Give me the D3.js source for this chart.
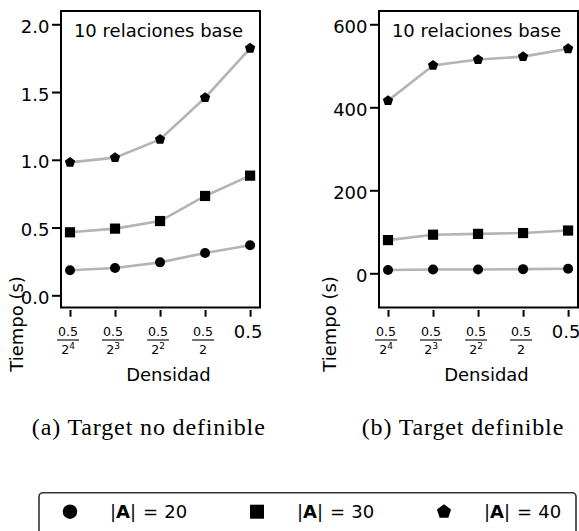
<!DOCTYPE html>
<html><head><meta charset="utf-8">
<script src="https://cdn.jsdelivr.net/npm/d3@7"></script>
<style>
body{margin:0;background:#fff}
svg{display:block}
text{font-family:"DejaVu Sans",sans-serif;fill:#000}
</style>
</head><body>
<svg id="c" width="579" height="531"></svg>
<script>
// ---- data ----
const densityLabels = ["0.5/2^4", "0.5/2^3", "0.5/2^2", "0.5/2", "0.5"];
const seriesNames = ["20", "30", "40"];
const leftA20 = [0.185, 0.201, 0.243, 0.312, 0.369];
const leftA30 = [0.465, 0.492, 0.548, 0.733, 0.883];
const leftA40 = [0.981, 1.016, 1.151, 1.458, 1.823];
const rightA20 = [8, 9, 9, 10, 11];
const rightA30 = [80, 93, 95, 97, 103];
const rightA40 = [416, 501, 515, 522, 541];
const leftTicks = [0.0, 0.5, 1.0, 1.5, 2.0];
const rightTicks = [0, 200, 400, 600];
const panelTitle = "10 relaciones base";
const yLabel = "Tiempo (s)";
const xLabel = "Densidad";
const captions = ["(a) Target no definible", "(b) Target definible"];

const svg = d3.select("#c");
const markerTypes = ["circle", "square", "pentagon"];

function markerPath(type, r) {
  if (type === "circle") return d3.symbol(d3.symbolCircle, Math.PI * r * r)();
  if (type === "square") return d3.symbol(d3.symbolSquare, 4 * r * r)();
  const pts = d3.range(5).map(k => {
    const a = -Math.PI / 2 + k * 2 * Math.PI / 5;
    return [r * Math.cos(a), r * Math.sin(a)];
  });
  return "M" + pts.map(p => p.join(",")).join("L") + "Z";
}

const panels = [
  {x0: 61, x1: 260, yDomain: [-0.09, 2.098], ticks: leftTicks, fmt: d3.format(".1f"),
   series: [leftA20, leftA30, leftA40], ylabX: 22.5, caption: captions[0], capX: 148.3, capW: 233},
  {x0: 379, x1: 578, yDomain: [-82.4, 632], ticks: rightTicks, fmt: d3.format("d"),
   series: [rightA20, rightA30, rightA40], ylabX: 336, caption: captions[1], capX: 462.5, capW: 201.6}
];
const yTop = 11, yBot = 307.5;

panels.forEach(p => {
  const g = svg.append("g");
  const x = d3.scaleLinear().domain([-0.2, 4.22]).range([p.x0, p.x1]);
  const y = d3.scaleLinear().domain(p.yDomain).range([yBot, yTop]);

  // lines
  p.series.forEach((vals, si) => {
    g.append("path")
      .datum(vals)
      .attr("fill", "none")
      .attr("stroke", "#b4b4b4")
      .attr("stroke-width", 2.6)
      .attr("d", d3.line().x((d, i) => x(i)).y(d => y(d)));
  });
  // markers
  p.series.forEach((vals, si) => {
    const r = markerTypes[si] === "circle" ? 5 : (markerTypes[si] === "square" ? 5.1 : 5.4);
    g.selectAll(null).data(vals).enter().append("path")
      .attr("d", markerPath(markerTypes[si], r))
      .attr("transform", (d, i) => `translate(${x(i)},${y(d)})`)
      .attr("fill", "#000");
  });

  // y axis
  const ya = g.append("g").attr("transform", `translate(${p.x0},0)`)
    .call(d3.axisLeft(y).tickValues(p.ticks).tickFormat(p.fmt).tickSize(9).tickPadding(2.5));
  ya.select(".domain").remove();
  ya.selectAll(".tick line").attr("stroke", "#000").attr("stroke-width", 2);
  ya.selectAll(".tick text").attr("font-size", 18).attr("font-family", "DejaVu Sans").attr("dy", "0.45em");

  // x axis (detached ticks)
  const xa = g.append("g").attr("transform", `translate(0,310)`)
    .call(d3.axisBottom(x).tickValues(d3.range(densityLabels.length)).tickSize(6.7).tickFormat(""));
  xa.select(".domain").remove();
  xa.selectAll(".tick line").attr("stroke", "#000").attr("stroke-width", 2);

  // x tick labels
  densityLabels.forEach((lab, i) => {
    const cx = x(i) - 2;
    if (lab.indexOf("/") < 0) {
      g.append("text").attr("x", cx).attr("y", 338.3).attr("text-anchor", "middle")
        .attr("font-size", 18).text(lab);
    } else {
      const [num, den] = lab.split("/");
      const [base, sup] = den.split("^");
      g.append("text").attr("x", cx).attr("y", 336).attr("text-anchor", "middle")
        .attr("font-size", 12.6).text(num);
      g.append("line").attr("x1", cx - 11).attr("x2", cx + 11).attr("y1", 340).attr("y2", 340)
        .attr("stroke", "#000").attr("stroke-width", 1.1);
      const t = g.append("text").attr("x", cx).attr("y", 354).attr("text-anchor", "middle")
        .attr("font-size", 12.6);
      t.append("tspan").text(base);
      if (sup) t.append("tspan").attr("font-size", 9).attr("dy", -5).text(sup);
    }
  });

  // box
  g.append("rect").attr("x", p.x0).attr("y", yTop).attr("width", p.x1 - p.x0).attr("height", yBot - yTop)
    .attr("fill", "none").attr("stroke", "#000").attr("stroke-width", 2);

  // panel title
  g.append("text").attr("x", (p.x0 + p.x1) / 2 - 2).attr("y", 36.5).attr("text-anchor", "middle")
    .attr("font-size", 18).text(panelTitle);

  // axis labels
  g.append("text").attr("x", (p.x0 + p.x1) / 2 + 8).attr("y", 381).attr("text-anchor", "middle")
    .attr("font-size", 18).text(xLabel);
  g.append("text").attr("transform", `translate(${p.ylabX},324) rotate(-90)`).attr("text-anchor", "middle")
    .attr("font-size", 18).text(yLabel);

  // caption
  g.append("text").attr("x", p.capX).attr("y", 435).attr("text-anchor", "middle")
    .style("font-family", "'Liberation Serif', serif")
    .attr("font-size", 24).attr("textLength", p.capW).attr("lengthAdjust", "spacing").text(p.caption);
});

// legend
const lg = svg.append("g");
lg.append("rect").attr("x", 39).attr("y", 492.7).attr("width", 537).attr("height", 60).attr("rx", 4)
  .attr("fill", "#fff").attr("stroke", "#333").attr("stroke-width", 1.6);
const legX = d3.scaleLinear().domain([0, 1]).range([70, 257]);
seriesNames.forEach((n, i) => {
  const mx = legX(i);
  lg.append("path").attr("d", markerPath(markerTypes[i], markerTypes[i] === "circle" ? 7.2 : (markerTypes[i] === "square" ? 7 : 7.4)))
    .attr("transform", `translate(${mx},511.7)`).attr("fill", "#000");
  const t = lg.append("text").attr("x", mx + 40).attr("y", 518.3).attr("font-size", 18);
  t.append("tspan").text("|");
  t.append("tspan").attr("font-weight", "bold").text("A");
  t.append("tspan").text("|");
  t.append("tspan").attr("dx", 7).text("=");
  t.append("tspan").attr("dx", 6).text(n);
});
</script>
</body></html>
